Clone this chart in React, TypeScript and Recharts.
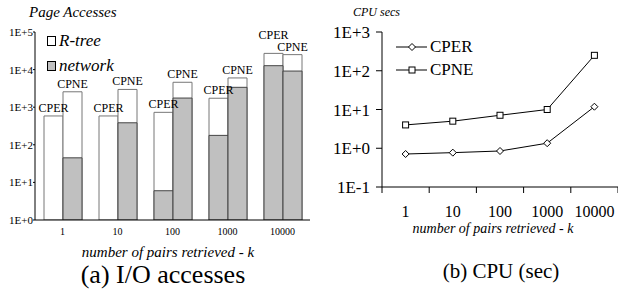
import React from "react"
import { BarChart, Bar, XAxis, YAxis, LabelList, LineChart, Line } from "recharts"

const serif = "'Liberation Serif', 'Times New Roman', serif"

const kValues = ["1", "10", "100", "1000", "10000"]
// page accesses (total = R-tree + network)
const cperTotal = [585, 585, 730, 1730, 27000]
const cperNetwork = [null, null, 6, 178, 12700]
const cpneTotal = [2570, 2970, 4600, 6000, 25000]
const cpneNetwork = [45, 385, 1750, 3380, 9150]
const ioTicks = [1, 10, 100, 1000, 10000, 100000]
// cpu seconds
const cperCpu = [0.71, 0.77, 0.85, 1.35, 11.8]
const cpneCpu = [4.0, 5.0, 7.1, 10, 250]
const cpuTicks = [0.1, 1, 10, 100, 1000]

const ioData = kValues.map((k, i) => ({
  k,
  cperTotal: cperTotal[i],
  cpneTotal: cpneTotal[i],
  cperNetwork: cperNetwork[i],
  cpneNetwork: cpneNetwork[i],
}))

const cpuData = kValues.map((k, i) => ({ k, CPER: cperCpu[i], CPNE: cpneCpu[i] }))

const expLabel = (v: number) => {
  const e = Math.round(Math.log10(v))
  return `1E${e < 0 ? "-" : "+"}${Math.abs(e)}`
}

const CPU_W = 308
const CPU_YAXIS = 72
const cpuBand = (CPU_W - CPU_YAXIS) / kValues.length

const barLabel = (name: string) => (props: any) => {
  const x = props.x ?? props.viewBox?.x
  const y = props.y ?? props.viewBox?.y
  const width = props.width ?? props.viewBox?.width
  // last pair of labels is staggered in the original so they don't collide
  const lift = name === "CPER" && props.index === kValues.length - 1 ? 14 : 4
  return (
    <text x={x + width / 2} y={y - lift} textAnchor="middle" fontSize={12} fontFamily={serif} fill="#000">
      {name}
    </text>
  )
}

// labels sit in the middle of each category, tick marks on the boundaries
const CpuTick = (props: any) => {
  const { x, y, payload, index } = props
  return (
    <g>
      <line x1={x - cpuBand / 2} x2={x - cpuBand / 2} y1={y} y2={y + 6} stroke="#000" />
      {index === kValues.length - 1 && (
        <line x1={x + cpuBand / 2} x2={x + cpuBand / 2} y1={y} y2={y + 6} stroke="#000" />
      )}
      <text x={x} y={y + 30} textAnchor="middle" fontSize={16} fontFamily={serif} fill="#000">
        {payload.value}
      </text>
    </g>
  )
}

const Diamond = (props: any) => {
  const { cx, cy } = props
  if (cx == null || cy == null) return null
  const r = 3.5
  return (
    <path
      d={`M${cx},${cy - r}L${cx + r},${cy}L${cx},${cy + r}L${cx - r},${cy}Z`}
      fill="#fff"
      stroke="#000"
      strokeWidth={1}
    />
  )
}

const Square = (props: any) => {
  const { cx, cy } = props
  if (cx == null || cy == null) return null
  return <rect x={cx - 3} y={cy - 3} width={6} height={6} fill="#fff" stroke="#000" strokeWidth={1} />
}

const App = () => {
  return (
    <div
      style={{
        position: "absolute",
        left: 0,
        top: 0,
        width: 618,
        height: 293,
        overflow: "hidden",
        background: "#fff",
        fontFamily: serif,
        color: "#000",
      }}
    >
      {/* (a) I/O accesses */}
      <div style={{ position: "absolute", left: 29, top: 4, fontSize: 15, fontStyle: "italic" }}>
        Page Accesses
      </div>
      <div style={{ position: "absolute", left: 0, top: 0 }}>
        <BarChart width={312} height={240} data={ioData} margin={{ top: 32, right: 2, left: 0, bottom: 0 }} barSize={19} barGap={0}>
          <XAxis xAxisId="main" dataKey="k" tickLine={false} axisLine={{ stroke: "#000" }} height={20} tick={{ fontSize: 10, fill: "#000", fontFamily: serif }} interval={0} />
          <XAxis xAxisId="over" dataKey="k" hide />
          <YAxis
            scale="log"
            domain={[1, 100000]}
            ticks={ioTicks}
            tickFormatter={expLabel}
            width={35}
            tickSize={2}
            tickMargin={0}
            axisLine={{ stroke: "#000" }}
            tickLine={{ stroke: "#000" }}
            tick={{ fontSize: 11, fill: "#000", fontFamily: serif }}
            allowDataOverflow
          />
          <Bar xAxisId="main" dataKey="cperTotal" fill="#fff" stroke="#777" isAnimationActive={false}>
            <LabelList dataKey="cperTotal" content={barLabel("CPER")} />
          </Bar>
          <Bar xAxisId="main" dataKey="cpneTotal" fill="#fff" stroke="#777" isAnimationActive={false}>
            <LabelList dataKey="cpneTotal" content={barLabel("CPNE")} />
          </Bar>
          <Bar xAxisId="over" dataKey="cperNetwork" fill="#c0c0c0" stroke="#444" isAnimationActive={false} />
          <Bar xAxisId="over" dataKey="cpneNetwork" fill="#c0c0c0" stroke="#444" isAnimationActive={false} />
        </BarChart>
      </div>
      <div style={{ position: "absolute", left: 47, top: 28, fontSize: 17, fontStyle: "italic", lineHeight: "25px" }}>
        <div style={{ display: "flex", alignItems: "center" }}>
          <span style={{ display: "inline-block", width: 7, height: 8, border: "1px solid #000", background: "#fff", marginRight: 3 }} />
          R-tree
        </div>
        <div style={{ display: "flex", alignItems: "center" }}>
          <span style={{ display: "inline-block", width: 7, height: 8, border: "1px solid #000", background: "#c0c0c0", marginRight: 3 }} />
          network
        </div>
      </div>
      <div style={{ position: "absolute", left: 168, top: 244, transform: "translateX(-50%)", fontSize: 15, fontStyle: "italic", whiteSpace: "nowrap" }}>
        number of pairs retrieved - k
      </div>
      <div style={{ position: "absolute", left: 163, top: 260, transform: "translateX(-50%)", fontSize: 26, whiteSpace: "nowrap" }}>
        (a) I/O accesses
      </div>

      {/* (b) CPU (sec) */}
      <div style={{ position: "absolute", left: 353, top: 5, fontSize: 12, fontStyle: "italic" }}>CPU secs</div>
      <div style={{ position: "absolute", left: 310, top: 0 }}>
        <LineChart width={CPU_W} height={240} data={cpuData} margin={{ top: 32, right: 0, left: 0, bottom: 0 }}>
          <XAxis
            dataKey="k"
            height={53}
            padding={{ left: cpuBand / 2, right: cpuBand / 2 }}
            tickLine={false}
            tickSize={0}
            tickMargin={0}
            axisLine={{ stroke: "#000" }}
            tick={<CpuTick />}
            interval={0}
          />
          <YAxis
            scale="log"
            domain={[0.1, 1000]}
            ticks={cpuTicks}
            tickFormatter={expLabel}
            width={CPU_YAXIS}
            tickSize={6}
            tickMargin={6}
            axisLine={{ stroke: "#000" }}
            tickLine={{ stroke: "#000" }}
            tick={{ fontSize: 17, fill: "#000", fontFamily: serif }}
            allowDataOverflow
          />
          <Line dataKey="CPER" stroke="#000" strokeWidth={1} dot={<Diamond />} activeDot={false} isAnimationActive={false} />
          <Line dataKey="CPNE" stroke="#000" strokeWidth={1} dot={<Square />} activeDot={false} isAnimationActive={false} />
        </LineChart>
      </div>
      <svg style={{ position: "absolute", left: 394, top: 36 }} width={36} height={46}>
        <line x1={2} x2={33} y1={11} y2={11} stroke="#000" />
        <Diamond cx={18} cy={11} />
        <line x1={2} x2={33} y1={34} y2={34} stroke="#000" />
        <Square cx={18} cy={34} />
      </svg>
      <div style={{ position: "absolute", left: 430, top: 35, fontSize: 17, lineHeight: "23px" }}>
        <div>CPER</div>
        <div>CPNE</div>
      </div>
      <div style={{ position: "absolute", left: 493, top: 221, transform: "translateX(-50%)", fontSize: 14, fontStyle: "italic", whiteSpace: "nowrap" }}>
        number of pairs retrieved - k
      </div>
      <div style={{ position: "absolute", left: 501, top: 259, transform: "translateX(-50%)", fontSize: 21, whiteSpace: "nowrap" }}>
        (b) CPU (sec)
      </div>
    </div>
  )
}

export default App
